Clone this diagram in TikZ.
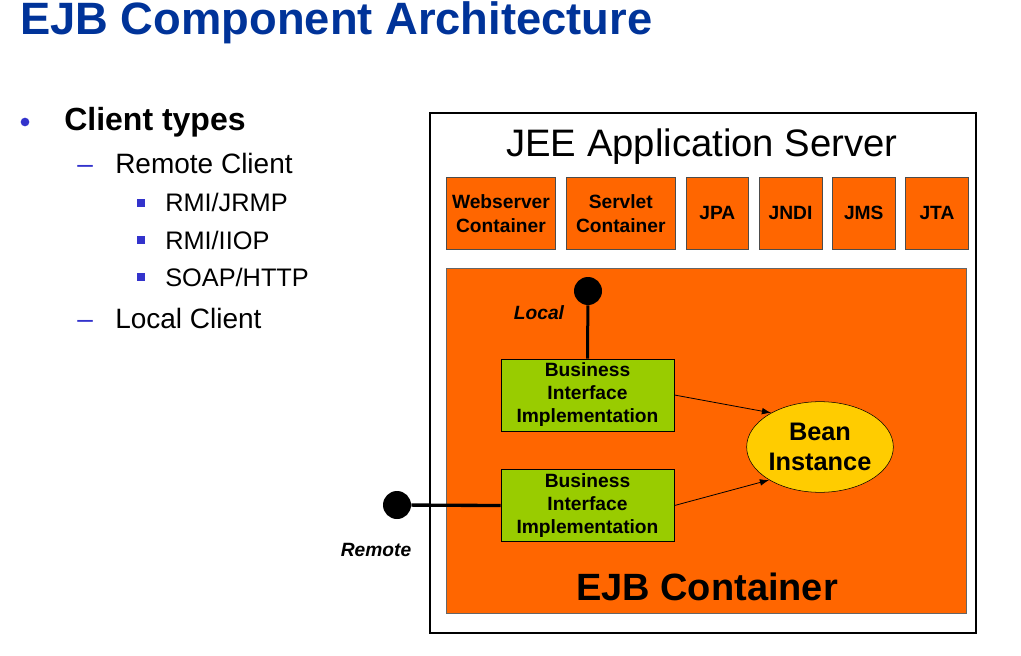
\documentclass[tikz,border=0pt]{standalone}
\usepackage{fontspec}
\setmainfont{Liberation Sans}
\usepackage{tikz}
\usetikzlibrary{arrows,arrows.meta,positioning,shapes.geometric}
\definecolor{titleblue}{RGB}{0,51,153}
\definecolor{bulletblue}{RGB}{51,51,204}
\definecolor{ejborange}{RGB}{255,102,0}
\definecolor{implgreen}{RGB}{153,204,0}
\definecolor{beanyellow}{RGB}{255,204,0}
\tikzset {
	heading/.style={anchor=base west, inner sep=0, text=titleblue, font=\fontsize{34}{40}\selectfont\bfseries},
	item/.style={anchor=base west, inner sep=0, font=\fontsize{24}{28}\selectfont\bfseries},
	subitem/.style={anchor=base west, inner sep=0, font=\fontsize{21}{25}\selectfont},
	subsubitem/.style={anchor=base west, inner sep=0, font=\fontsize{19}{23}\selectfont},
	dotmark/.style={circle, fill=bulletblue, minimum size=6.5pt, inner sep=0},
	sqmark/.style={rectangle, fill=bulletblue, minimum size=5.5pt, inner sep=0},
	service/.style={rectangle, draw=black!70, fill=ejborange, minimum height=54pt, inner sep=0, align=center, font=\fontsize{14.4}{18}\selectfont\bfseries},
	wide/.style={minimum width=82pt},
	narrow/.style={minimum width=47pt},
	impl/.style={rectangle, draw, fill=implgreen, minimum width=130pt, minimum height=54pt, inner sep=0, align=center, font=\fontsize{14.4}{17.25}\selectfont\bfseries},
	bean/.style={ellipse, draw, fill=beanyellow, minimum width=110pt, minimum height=68pt, inner sep=0, align=center, font=\fontsize{19}{22.5}\selectfont\bfseries},
	port/.style={circle, fill=black, minimum size=21pt, inner sep=0},
	portlabel/.style={inner sep=0, font=\fontsize{14.4}{17}\selectfont\bfseries\itshape},
	call/.style={-{Latex[length=7pt,width=5pt]}, line width=0.6pt}
}
\begin{document}
\begin{tikzpicture}[x=0.75pt, y=-0.75pt]
	\useasboundingbox (0,0) rectangle (1021,656);
	\node[heading] (title) at (20,35) {EJB Component Architecture};
	\node[dotmark] (dot) at (25,122) {};
	\node[item] (types) at (64,131) {Client types};
	\node[subitem, text=bulletblue] (dashremote) at (77,174) {–};
	\node[subitem] (remoteclient) at (115,174) {Remote Client};
	\node[sqmark] (sqjrmp) at (141,203) {};
	\node[subsubitem] (jrmp) at (165,212) {RMI/JRMP};
	\node[sqmark] (sqiiop) at (141,240) {};
	\node[subsubitem] (iiop) at (165,249) {RMI/IIOP};
	\node[sqmark] (sqsoap) at (141,277) {};
	\node[subsubitem] (soap) at (165,286) {SOAP/HTTP};
	\node[subitem, text=bulletblue] (dashlocal) at (77,328) {–};
	\node[subitem] (localclient) at (115,328) {Local Client};

	\node[draw, line width=1.5pt, anchor=north west, minimum width=409.5pt, minimum height=390pt, inner sep=0] (server) at (429,112) {};
	\node[anchor=base, inner sep=0, font=\fontsize{28.7}{32}\selectfont] (servertitle) at (702,157) {JEE Application Server};
	\node[service, wide, anchor=north west] (web) at (446,177) {Webserver\\Container};
	\node[service, wide, right=7.5pt of web] (servlet) {Servlet\\Container};
	\node[service, narrow, right=7.5pt of servlet] (jpa) {JPA};
	\node[service, narrow, right=7.5pt of jpa] (jndi) {JNDI};
	\node[service, narrow, right=7.5pt of jndi] (jms) {JMS};
	\node[service, narrow, right=7.5pt of jms] (jta) {JTA};

	\node[draw=black!60, fill=ejborange, anchor=north west, minimum width=390pt, minimum height=258.75pt, inner sep=0] (ejb) at (446,268) {};
	\node[anchor=base, inner sep=0, font=\fontsize{28.5}{32}\selectfont\bfseries] (ejbtitle) at (707,600) {EJB Container};
	\node[impl] (localimpl) at (587.5,395) {Business\\Interface\\Implementation};
	\node[impl, below=28.5pt of localimpl] (remoteimpl) {Business\\Interface\\Implementation};
	\node[bean] (bean) at (820,447) {Bean\\Instance};

	\node[port] (localport) at (588,291) {};
	\node[portlabel] (locallabel) at (539,313) {Local};
	\node[port] (remoteport) at (397,505) {};
	\node[portlabel] (remotelabel) at (376,550) {Remote};

	\draw[line width=2.25pt] (localport) -- (localimpl.north);
	\draw[line width=2.5pt] (remoteport) -- (remoteimpl.west);
	\draw[call] (localimpl.east) -- (bean.145);
	\draw[call] (remoteimpl.east) -- (bean.213);
\end{tikzpicture}
\end{document}
